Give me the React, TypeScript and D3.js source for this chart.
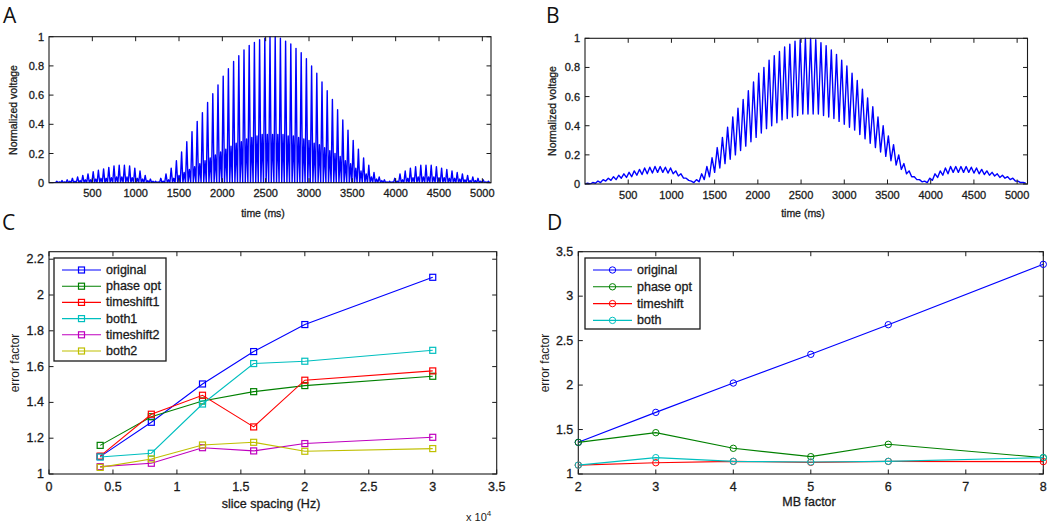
import React from 'react';
import * as d3 from 'd3';

const FONT = '"Liberation Sans", Arial, Helvetica, sans-serif';
const INK = '#1a1a1a';

// Panels A/B: one reading per oscillation cycle, cycles 60 ms apart starting at 30 ms
const cycleStart = 30;
const cycleStep = 60;

// A: tall lobe of each cycle, then the small lobe half a cycle later
const aMajor = [
  0.0, 0.01, 0.015, 0.02, 0.03, 0.04, 0.05, 0.06, 0.075, 0.085, 0.095, 0.105, 0.115, 0.12, 0.12, 0.115, 0.1, 0.08, 0.05, 0.025,
  0.01, 0.03, 0.06, 0.1, 0.15, 0.21, 0.28, 0.35, 0.42, 0.48, 0.55, 0.61, 0.67, 0.73, 0.78, 0.83, 0.87, 0.91, 0.94, 0.96,
  0.98, 0.99, 1.0, 1.0, 0.99, 0.97, 0.95, 0.92, 0.89, 0.85, 0.8, 0.75, 0.69, 0.63, 0.57, 0.5, 0.43, 0.36, 0.29, 0.23,
  0.17, 0.12, 0.07, 0.04, 0.02, 0.01, 0.03, 0.06, 0.08, 0.1, 0.11, 0.12, 0.12, 0.12, 0.11, 0.1, 0.09, 0.08, 0.07, 0.06,
  0.05, 0.04, 0.03, 0.02, 0.01,
];
const aMinor = [
  0.0, 0.005, 0.005, 0.01, 0.01, 0.015, 0.02, 0.02, 0.025, 0.03, 0.03, 0.035, 0.04, 0.04, 0.04, 0.035, 0.03, 0.025, 0.015, 0.01,
  0.005, 0.01, 0.02, 0.03, 0.05, 0.07, 0.09, 0.11, 0.13, 0.15, 0.17, 0.19, 0.21, 0.23, 0.25, 0.27, 0.28, 0.3, 0.31, 0.32,
  0.33, 0.33, 0.33, 0.33, 0.33, 0.32, 0.32, 0.31, 0.3, 0.29, 0.27, 0.26, 0.24, 0.22, 0.2, 0.18, 0.15, 0.13, 0.1, 0.08,
  0.06, 0.04, 0.025, 0.015, 0.005, 0.005, 0.01, 0.02, 0.03, 0.035, 0.04, 0.04, 0.04, 0.04, 0.035, 0.035, 0.03, 0.03, 0.025, 0.02,
  0.015, 0.015, 0.01, 0.005, 0.0,
];

// B: peak of each cycle, then the trough half a cycle later
const bUpper = [
  0.005, 0.01, 0.02, 0.03, 0.04, 0.05, 0.06, 0.07, 0.08, 0.09, 0.1, 0.11, 0.115, 0.12, 0.12, 0.115, 0.11, 0.09, 0.07, 0.04,
  0.02, 0.03, 0.07, 0.12, 0.18, 0.25, 0.32, 0.39, 0.46, 0.52, 0.58, 0.64, 0.7, 0.76, 0.8, 0.85, 0.88, 0.91, 0.94, 0.96,
  0.98, 0.99, 1.0, 1.0, 0.99, 0.97, 0.95, 0.92, 0.89, 0.85, 0.81, 0.76, 0.71, 0.65, 0.59, 0.53, 0.46, 0.4, 0.33, 0.27,
  0.2, 0.14, 0.09, 0.05, 0.03, 0.02, 0.04, 0.07, 0.09, 0.11, 0.12, 0.12, 0.12, 0.12, 0.115, 0.11, 0.1, 0.09, 0.08, 0.07,
  0.06, 0.05, 0.04, 0.02, 0.01,
];
const bLower = [
  0.0, 0.005, 0.01, 0.02, 0.025, 0.03, 0.04, 0.045, 0.05, 0.06, 0.065, 0.07, 0.075, 0.08, 0.08, 0.075, 0.07, 0.055, 0.04, 0.025,
  0.01, 0.015, 0.03, 0.05, 0.08, 0.11, 0.14, 0.17, 0.2, 0.23, 0.26, 0.29, 0.32, 0.35, 0.38, 0.4, 0.42, 0.44, 0.45, 0.46,
  0.47, 0.48, 0.48, 0.48, 0.48, 0.47, 0.46, 0.45, 0.43, 0.41, 0.39, 0.37, 0.34, 0.31, 0.28, 0.25, 0.22, 0.19, 0.16, 0.13,
  0.1, 0.07, 0.05, 0.03, 0.015, 0.01, 0.025, 0.045, 0.06, 0.07, 0.08, 0.08, 0.08, 0.08, 0.075, 0.07, 0.065, 0.06, 0.055, 0.045,
  0.04, 0.03, 0.02, 0.01, 0.005,
];

const timeTicks = [500, 1000, 1500, 2000, 2500, 3000, 3500, 4000, 4500, 5000];
const voltTicks = [0, 0.2, 0.4, 0.6, 0.8, 1];

// Panel C (slice spacing in units of 10^4 Hz)
const sliceSpacing = [0.4, 0.8, 1.2, 1.6, 2, 3];
const cOriginal = [1.097, 1.289, 1.503, 1.684, 1.835, 2.099];
const cPhaseOpt = [1.16, 1.32, 1.408, 1.46, 1.494, 1.546];
const cTimeshift1 = [1.1, 1.334, 1.44, 1.263, 1.524, 1.576];
const cBoth1 = [1.095, 1.116, 1.391, 1.617, 1.63, 1.691];
const cTimeshift2 = [1.041, 1.06, 1.147, 1.129, 1.17, 1.205];
const cBoth2 = [1.037, 1.084, 1.162, 1.177, 1.127, 1.142];
const cNames = ['original', 'phase opt', 'timeshift1', 'both1', 'timeshift2', 'both2'];
const cColors = ['#0000ff', '#008000', '#ff0000', '#00bfbf', '#bf00bf', '#bfbf00'];
const cXTicks = [0, 0.5, 1, 1.5, 2, 2.5, 3, 3.5];
const cYTicks = [1, 1.2, 1.4, 1.6, 1.8, 2, 2.2];

// Panel D
const mbFactor = [2, 3, 4, 5, 6, 8];
const dOriginal = [1.356, 1.693, 2.023, 2.346, 2.679, 3.358];
const dPhaseOpt = [1.356, 1.465, 1.289, 1.195, 1.334, 1.184];
const dTimeshift = [1.1, 1.127, 1.142, 1.131, 1.142, 1.139];
const dBoth = [1.1, 1.184, 1.142, 1.135, 1.142, 1.184];
const dNames = ['original', 'phase opt', 'timeshift', 'both'];
const dColors = ['#0000ff', '#008000', '#ff0000', '#00bfbf'];
const dXTicks = [2, 3, 4, 5, 6, 7, 8];
const dYTicks = [1, 1.5, 2, 2.5, 3, 3.5];

const fmt = (v) => String(+v.toFixed(2));

// slightly heavier text, like the matlab export
const heavy = { stroke: INK, strokeWidth: 0.3, paintOrder: 'stroke' };

function Frame({ x, y, xTicks, yTicks, fontSize, xLabelDy, yLabelDx }) {
  const [x0, x1] = x.range();
  const [y0, y1] = y.range();
  const tl = 4.5;
  return (
    <g fontFamily={FONT} fill={INK}>
      {xTicks.map((t) => (
        <g key={'x' + t}>
          <line x1={x(t)} x2={x(t)} y1={y0} y2={y0 - tl} stroke={INK} />
          <line x1={x(t)} x2={x(t)} y1={y1} y2={y1 + tl} stroke={INK} />
          <text x={x(t)} y={y0 + xLabelDy} textAnchor="middle" dominantBaseline="central" fontSize={fontSize} style={heavy}>{fmt(t)}</text>
        </g>
      ))}
      {yTicks.map((t) => (
        <g key={'y' + t}>
          <line x1={x0} x2={x0 + tl} y1={y(t)} y2={y(t)} stroke={INK} />
          <line x1={x1} x2={x1 - tl} y1={y(t)} y2={y(t)} stroke={INK} />
          <text x={x0 - yLabelDx} y={y(t)} textAnchor="end" dominantBaseline="central" fontSize={fontSize} style={heavy}>{fmt(t)}</text>
        </g>
      ))}
      <rect x={x0} y={y1} width={x1 - x0} height={y0 - y1} fill="none" stroke={INK} strokeWidth={1.1} />
    </g>
  );
}

function Marker({ kind, cx, cy, color }) {
  if (kind === 'square') {
    return <rect x={cx - 3} y={cy - 3} width={6} height={6} fill="none" stroke={color} strokeWidth={1.2} />;
  }
  return <circle cx={cx} cy={cy} r={3.2} fill="none" stroke={color} strokeWidth={1} />;
}

function Legend({ x, y, w, h, names, colors, kind, step }) {
  return (
    <g fontFamily={FONT}>
      <rect x={x} y={y} width={w} height={h} fill="#fff" stroke={INK} strokeWidth={1.3} />
      {names.map((n, i) => {
        const cy = y + 12 + i * step;
        return (
          <g key={n}>
            <line x1={x + 8} x2={x + 47} y1={cy} y2={cy} stroke={colors[i]} strokeWidth={1.1} />
            <Marker kind={kind} cx={x + 27.5} cy={cy} color={colors[i]} />
            <text x={x + 52} y={cy} dominantBaseline="central" fontSize={12.5} fill={INK} style={heavy}>{n}</text>
          </g>
        );
      })}
    </g>
  );
}

export default function App() {
  // ---- A ----
  const xA = d3.scaleLinear().domain([0, 5100]).range([49, 491]);
  const yA = d3.scaleLinear().domain([0, 1]).range([182.7, 36.7]);
  const ptsA = [[0, 0]];
  aMajor.forEach((v, i) => {
    const t = cycleStart + i * cycleStep;
    ptsA.push([t, v], [t + cycleStep / 4, 0], [t + cycleStep / 2, aMinor[i]], [t + (3 * cycleStep) / 4, 0]);
  });
  const lineA = d3.line().x((d) => xA(d[0])).y((d) => yA(d[1]));

  // ---- B ----
  const xB = d3.scaleLinear().domain([0, 5120]).range([585, 1027.5]);
  const yB = d3.scaleLinear().domain([0, 1]).range([184, 38.3]);
  const ptsB = [[0, 0]];
  bUpper.forEach((v, i) => {
    const t = cycleStart + i * cycleStep;
    ptsB.push([t, v], [t + cycleStep / 2, bLower[i]]);
  });
  const lineB = d3.line().x((d) => xB(d[0])).y((d) => yB(d[1]));

  // ---- C ----
  const xC = d3.scaleLinear().domain([0, 3.5]).range([49, 496.7]);
  const yC = d3.scaleLinear().domain([1, 2.242]).range([474, 251.7]);
  const cSeries = [cOriginal, cPhaseOpt, cTimeshift1, cBoth1, cTimeshift2, cBoth2];
  const lineC = d3.line().x((d) => xC(d[0])).y((d) => yC(d[1]));

  // ---- D ----
  const xD = d3.scaleLinear().domain([2, 8]).range([578.3, 1043.3]);
  const yD = d3.scaleLinear().domain([1, 3.5]).range([474, 251.7]);
  const dSeries = [dOriginal, dPhaseOpt, dTimeshift, dBoth];
  const lineD = d3.line().x((d) => xD(d[0])).y((d) => yD(d[1]));

  const letter = { fontFamily: '"Open Sans", "DejaVu Sans", sans-serif', fontSize: 21, fill: '#111' };
  const small = { fontFamily: FONT, fill: INK };

  return (
    <svg width={1050} height={523} style={{ position: 'absolute', left: 0, top: 0, background: '#fff' }}>
      <defs>
        <clipPath id="clipA"><rect x={49} y={36} width={442} height={147} /></clipPath>
        <clipPath id="clipB"><rect x={585} y={37.5} width={442.5} height={147} /></clipPath>
      </defs>

      {/* panel letters */}
      <text x={3} y={23} {...letter}>A</text>
      <text x={546} y={23} {...letter}>B</text>
      <text x={2} y={230} {...letter}>C</text>
      <text x={547} y={230} {...letter}>D</text>

      {/* A */}
      <path d={lineA(ptsA)} fill="none" stroke="#0000ff" strokeWidth={1.4} strokeLinejoin="round" clipPath="url(#clipA)" />
      <Frame x={xA} y={yA} xTicks={timeTicks} yTicks={voltTicks} fontSize={11} xLabelDy={10.5} yLabelDx={5} />
      <text x={263} y={213} textAnchor="middle" dominantBaseline="central" fontSize={10.5} {...small} style={heavy}>time (ms)</text>
      <text transform="translate(13,110) rotate(-90)" textAnchor="middle" dominantBaseline="central" fontSize={10.5} {...small} style={heavy}>Normalized voltage</text>

      {/* B */}
      <path d={lineB(ptsB)} fill="none" stroke="#0000ff" strokeWidth={1.4} strokeLinejoin="round" clipPath="url(#clipB)" />
      <Frame x={xB} y={yB} xTicks={timeTicks} yTicks={voltTicks} fontSize={11} xLabelDy={10.5} yLabelDx={5} />
      <text x={803} y={213} textAnchor="middle" dominantBaseline="central" fontSize={10.5} {...small} style={heavy}>time (ms)</text>
      <text transform="translate(552,111) rotate(-90)" textAnchor="middle" dominantBaseline="central" fontSize={10.5} {...small} style={heavy}>Normalized voltage</text>

      {/* C */}
      <Frame x={xC} y={yC} xTicks={cXTicks} yTicks={cYTicks} fontSize={12.5} xLabelDy={13} yLabelDx={5} />
      {cSeries.map((vals, k) => {
        const pts = sliceSpacing.map((s, i) => [s, vals[i]]);
        return (
          <g key={cNames[k]}>
            <path d={lineC(pts)} fill="none" stroke={cColors[k]} strokeWidth={1.1} />
            {pts.map((p, i) => <Marker key={i} kind="square" cx={xC(p[0])} cy={yC(p[1])} color={cColors[k]} />)}
          </g>
        );
      })}
      <Legend x={54} y={258} w={112} h={103} names={cNames} colors={cColors} kind="square" step={16.2} />
      <text x={271} y={504} textAnchor="middle" dominantBaseline="central" fontSize={12.5} {...small} style={heavy}>slice spacing (Hz)</text>
      <text x={466} y={521} fontSize={11} {...small}>x 10<tspan dy={-5} fontSize={8}>4</tspan></text>
      <text transform="translate(15,363) rotate(-90)" textAnchor="middle" dominantBaseline="central" fontSize={12} {...small}>error factor</text>

      {/* D */}
      <Frame x={xD} y={yD} xTicks={dXTicks} yTicks={dYTicks} fontSize={12.5} xLabelDy={13} yLabelDx={5} />
      {dSeries.map((vals, k) => {
        const pts = mbFactor.map((m, i) => [m, vals[i]]);
        return (
          <g key={dNames[k]}>
            <path d={lineD(pts)} fill="none" stroke={dColors[k]} strokeWidth={1.1} />
            {pts.map((p, i) => <Marker key={i} kind="circle" cx={xD(p[0])} cy={yD(p[1])} color={dColors[k]} />)}
          </g>
        );
      })}
      <Legend x={585} y={258} w={115} h={71} names={dNames} colors={dColors} kind="circle" step={16.8} />
      <text x={809} y={502} textAnchor="middle" dominantBaseline="central" fontSize={12.5} {...small} style={heavy}>MB factor</text>
      <text transform="translate(545,363) rotate(-90)" textAnchor="middle" dominantBaseline="central" fontSize={12} {...small}>error factor</text>
    </svg>
  );
}
